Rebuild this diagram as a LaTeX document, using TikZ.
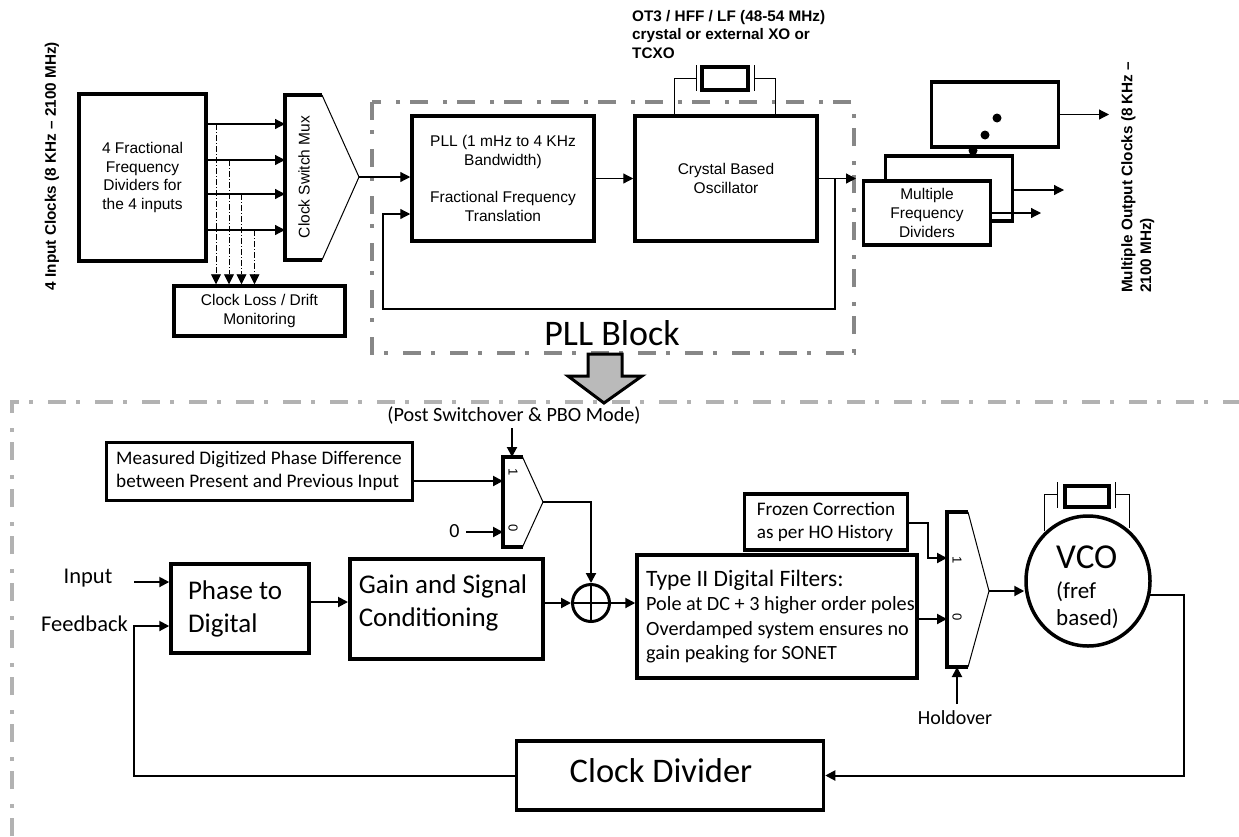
\documentclass[tikz,border=0pt]{standalone}
\usepackage{fontspec}
\setmainfont{Carlito}
\newfontfamily\arialfont{Liberation Sans}
\usetikzlibrary{arrows.meta,shapes.geometric}
\def\lblsize{15.5}

\begin{document}
\begin{tikzpicture}[x=1pt,y=-1pt,>={Triangle[length=10pt,width=10pt]}]
	\tikzstyle{block}=[draw=black,line width=3.5pt,inner sep=0pt,align=flush center]
	\tikzstyle{thin block}=[block,line width=3pt]
	\tikzstyle{top text}=[inner sep=0pt,align=flush center,font=\arialfont\fontsize{\lblsize}{18.7}\selectfont]
	\tikzstyle{bold text}=[inner sep=0pt,align=flush left,font=\arialfont\bfseries\fontsize{15.3}{18.7}\selectfont]
	\tikzstyle{low text}=[inner sep=0pt,align=flush left,font=\fontsize{19.2}{23}\selectfont]
	\tikzstyle{big text}=[inner sep=0pt,align=flush left,font=\fontsize{27}{33}\selectfont]
	\tikzstyle{link}=[->,line width=1.2pt]
	\tikzstyle{low link}=[->,line width=2pt]
	\tikzstyle{tap}=[->,line width=0.9pt,dash pattern=on 6pt off 2pt on 1pt off 2pt]
	\tikzstyle{wire}=[line width=1pt]
	\tikzstyle{side}=[line width=1pt]
	\useasboundingbox (0,0) rectangle (1239,836);
	
	% Draw the dashed frames
	\draw[color=black!47,line width=3.5pt,dash pattern=on 18pt off 10pt on 4pt off 15pt] (372,102) rectangle (854,353);
	\draw[color=black!30,line width=3.5pt,dash pattern=on 18pt off 10pt on 4pt off 15pt] (12,836) -- (12,402) -- (1239,402);
	
	% Draw the upper blocks
	\node[block,top text,minimum width=127pt,minimum height=167pt] (Dividers) at (142.5,177.5) {4 Fractional\\Frequency\\Dividers for\\the 4 inputs};
	\node[block,top text,minimum width=171pt,minimum height=50pt] (Monitor) at (259.5,311) {Clock Loss / Drift\\Monitoring};
	\node[block,top text,minimum width=182pt,minimum height=125pt] (PLL) at (503,178.5) {PLL (1 mHz to 4 KHz\\Bandwidth)\\[18.7pt]Fractional Frequency\\Translation};
	\node[block,top text,minimum width=182pt,minimum height=125pt] (Osc) at (726,178.5) {Crystal Based\\Oscillator};
	\node[block,minimum width=127pt,minimum height=65pt] (Out-3) at (995,114.5) {};
	\node[block,minimum width=127pt,minimum height=65pt] (Out-2) at (949,188.5) {};
	\node[block,top text,fill=white,minimum width=127pt,minimum height=64pt] (Out-1) at (927,213) {Multiple\\Frequency\\Dividers};
	
	% Draw the clock switch mux
	\coordinate (Mux-tip) at (359,177);
	\draw[side] (322,95) -- (Mux-tip) -- (322,260);
	\draw[line width=3.5pt] (322,95) -- (285,95) -- (285,260) -- (322,260);
	\node[top text,rotate=90] (Mux-label) at (304,177) {Clock Switch Mux};
	
	% Draw the crystal of the oscillator
	\node[block,minimum width=46pt,minimum height=23pt] (Xtal) at (725,78.5) {};
	\draw[wire] (696,65) -- (696,91) (754,65) -- (754,91);
	\draw[wire] (696,78) -| (Osc.north -| 674,0);
	\draw[wire] (754,78) -| (Osc.north -| 775,0);
	
	% Draw the output dots
	\foreach \px/\py in {997/118,985/135}
	\fill (\px,\py) circle (4.5);
	\fill (973,150.5) circle (4.5);
	
	% Connect the dividers with the mux and the monitor
	\foreach \y/\x in {124/216,160/229,194/241.5,230/254.5}{
		\path[link] (Dividers.east |- 0,\y) edge (285,\y);
		\path[tap] (\x,\y) edge (Monitor.north -| \x,0);
	}
	
	% Connect the PLL loop
	\path[link] (Mux-tip) edge (PLL.west |- Mux-tip);
	\path[link] (PLL.east |- Osc) edge (Osc);
	\path[link] (Osc.east) edge (856,178.5);
	\draw[link] (835,178.5) |- (383,309) |- (PLL.west |- 0,214);
	
	% Connect the outputs
	\path[link] (Out-3.east) edge (1109,114.5);
	\path[link] (Out-2.east |- 0,190) edge (1064,190);
	\path[link] (Out-1.east |- 0,213) edge (1041,213);
	
	% Annotate the upper part
	\node[bold text,rotate=90] (In-label) at (52,166) {4 Input Clocks (8 KHz – 2100 MHz)};
	\node[bold text,anchor=north west] (Xtal-label) at (632,10) {OT3 / HFF / LF (48-54 MHz)\\crystal or external XO or\\TCXO};
	\node[bold text,rotate=90,anchor=north west] (Out-label) at (1121,293) {Multiple Output Clocks (8 KHz –\\2100 MHz)};
	\node[big text,font=\fontsize{36}{38}\selectfont] (PLL-label) at (612,333) {PLL Block};
	
	% Draw the block arrow
	\draw[draw=black,fill=black!27,line width=3pt] (588,354) -- (622,354) -- (622,376) -- (642,376) -- (604,403) -- (568,376) -- (588,376) -- cycle;
	
	% Draw the lower blocks
	\node[thin block,low text,minimum width=306pt,minimum height=58pt] (Measured) at (259,471) {Measured Digitized Phase Difference\\between Present and Previous Input};
	\node[block,big text,minimum width=138pt,minimum height=89pt,text width=104pt] (Phase) at (240,608.5) {Phase to\\Digital};
	\node[block,big text,minimum width=193pt,minimum height=100pt,text width=175pt,anchor=north west] (Gain) at (348,557) {Gain and Signal\\Conditioning\\[-16pt]\mbox{}};
	\node[block,minimum width=280pt,minimum height=123pt] (Filter) at (777,616.5) {};
	\node[low text,anchor=west,font=\fontsize{20.2}{24.4}\selectfont] (Filter-label) at (646,616.5) {{\fontsize{23.5}{24.4}\selectfont Type II Digital Filters:}\\Pole at DC + 3 higher order poles\\Overdamped system ensures no\\gain peaking for SONET};
	\node[block,low text,minimum width=163pt,minimum height=56pt] (Frozen) at (826,522) {Frozen Correction\\as per HO History};
	\node[block,minimum width=307pt,minimum height=69pt] (Divider) at (670,775.5) {};
	\node[big text,font=\fontsize{34.5}{36}\selectfont] (Divider-label) at (661,771) {Clock Divider};
	\node[circle,draw=black,line width=3pt,minimum size=37pt,inner sep=0pt] (Sum) at (591,603) {};
	\draw[line width=2pt] (Sum.north) -- (Sum.south) (Sum.west) -- (Sum.east);
	\node[ellipse,draw=black,line width=3.5pt,minimum width=124pt,minimum height=130pt,inner sep=0pt] (VCO) at (1088,581) {};
	\node[big text,font=\fontsize{35}{36}\selectfont,anchor=west] (VCO-label) at (1056,557) {VCO};
	\node[low text,font=\fontsize{23}{27}\selectfont,anchor=west] (Fref-label) at (1056,605.5) {(fref\\based)};
	
	% Draw the select muxes
	\foreach \name/\left/\knee/\tip/\top/\bottom/\mid/\one/\zero in {Sel-1/503/522.5/543/457/547/502/472/528,Sel-2/947/968/989/512/667/591/560/617}{
		\coordinate (\name-tip) at (\tip,\mid);
		\draw[side] (\knee,\top) -- (\name-tip) -- (\knee,\bottom);
		\draw[line width=3.5pt] (\knee,\top) -- (\left,\top) -- (\left,\bottom) -- (\knee,\bottom);
		\node[inner sep=0pt,rotate=-90,font=\arialfont\fontsize{13}{13}\selectfont] (\name-one) at (\left+10,\one) {1};
		\node[inner sep=0pt,rotate=-90,font=\arialfont\fontsize{13}{13}\selectfont] (\name-zero) at (\left+10,\zero) {0};
	}
	
	% Draw the crystal of the VCO
	\node[block,minimum width=44pt,minimum height=21pt] (Vxtal) at (1087,496.5) {};
	\draw[wire] (1057,482) -- (1057,508) (1115,482) -- (1115,508);
	\draw[wire] (1057,494) -| (1044,531);
	\draw[wire] (1115,494) -| (1129,528);
	
	% Annotate the lower part
	\node[low text,font=\fontsize{20.2}{22}\selectfont] (Post-label) at (514,416) {(Post Switchover \& PBO Mode)};
	\node[low text,font=\fontsize{20}{22}\selectfont] (Zero-label) at (454.5,531) {0};
	\node[low text,font=\fontsize{22.5}{24}\selectfont] (In2-label) at (88,578) {Input};
	\node[low text,font=\fontsize{22.5}{24}\selectfont] (Fb-label) at (84.5,624) {Feedback};
	\node[low text,font=\fontsize{20}{22}\selectfont] (Hold-label) at (955,718) {Holdover};
	
	% Connect the lower blocks
	\path[low link] (512,428) edge (512,457);
	\path[low link] (Measured.east |- 0,481) edge (503,481);
	\path[low link] (466,532) edge (503,532);
	\path[low link] (134,582) edge (Phase.west |- 0,582);
	\path[low link] (Phase.east |- 0,602) edge (Gain.west |- 0,602);
	\path[low link] (545,603) edge (Sum.west);
	\path[low link] (Sum.east) edge (Filter.west |- Sum);
	\draw[low link] (Sel-1-tip) -| (Sum.north);
	\draw[low link] (Frozen.east |- 0,523) -| (928,558) -- (947,558);
	\path[low link] (Filter.east |- 0,619) edge (947,619);
	\path[low link] (957,704) edge (957,667);
	\path[low link] (Sel-2-tip) edge (VCO.west |- Sel-2-tip);
	\draw[low link] (1150,595) -| (1184,775.5) -- (Divider.east);
	\draw[low link] (Divider.west) -| (134,626) -- (Phase.west |- 0,626);
	
\end{tikzpicture}
\end{document}
